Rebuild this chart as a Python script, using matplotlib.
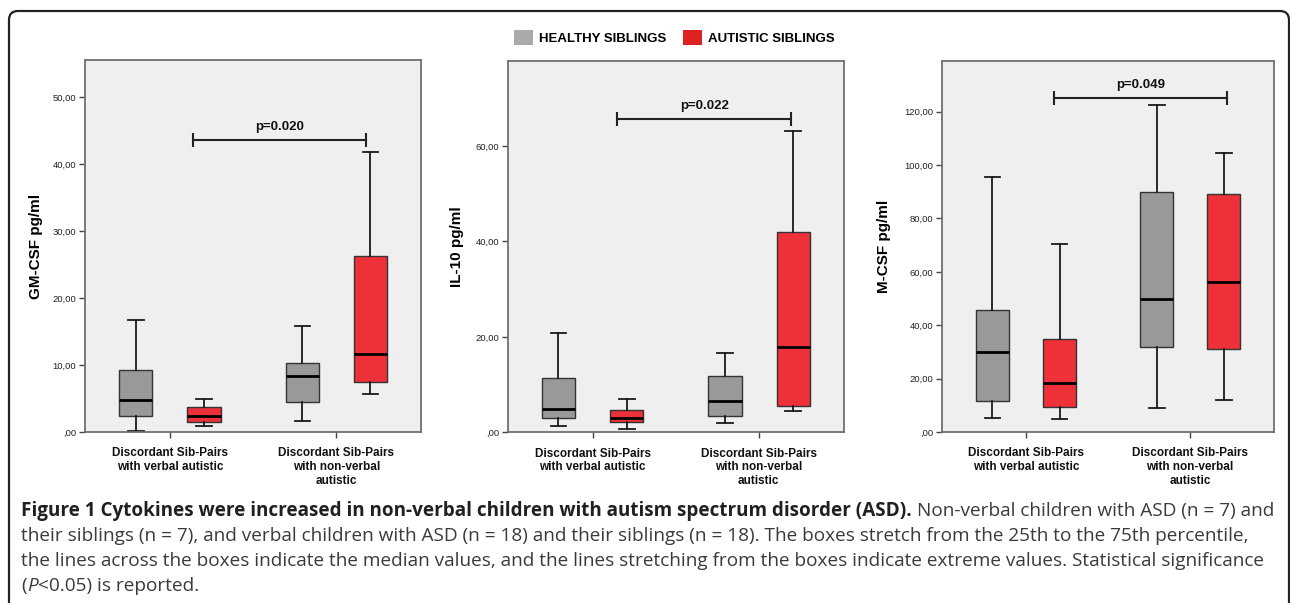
import matplotlib
matplotlib.use("Agg")
import matplotlib.pyplot as plt
from matplotlib.patches import Patch, FancyBboxPatch
from matplotlib.ticker import MultipleLocator, FuncFormatter

# categories / series
groups = ["Discordant Sib-Pairs\nwith verbal autistic",
          "Discordant Sib-Pairs\nwith non-verbal\nautistic"]
series = ["HEALTHY SIBLINGS", "AUTISTIC SIBLINGS"]

# box values, order: healthy-verbal, autistic-verbal, healthy-nonverbal, autistic-nonverbal
gm_lo = [0.1, 0.95, 1.65, 5.7]
gm_q1 = [2.4, 1.45, 4.55, 7.5]
gm_med = [4.8, 2.4, 8.3, 11.7]
gm_q3 = [9.25, 3.7, 10.25, 26.35]
gm_hi = [16.7, 4.95, 15.9, 41.8]

il_lo = [1.35, 0.7, 2.05, 4.45]
il_q1 = [3.05, 2.15, 3.4, 5.6]
il_med = [4.9, 2.95, 6.55, 17.9]
il_q3 = [11.45, 4.6, 11.75, 42.05]
il_hi = [20.9, 7.0, 16.6, 63.1]

m_lo = [5.4, 4.75, 9.0, 11.9]
m_q1 = [11.5, 9.5, 31.8, 31.1]
m_med = [30.1, 18.5, 49.7, 56.2]
m_q3 = [45.7, 34.7, 89.8, 89.2]
m_hi = [95.6, 70.4, 122.6, 104.6]

ylabels = ["GM-CSF pg/ml", "IL-10 pg/ml", "M-CSF pg/ml"]
p_values = ["p=0.020", "p=0.022", "p=0.049"]

panels = [
    (gm_lo, gm_q1, gm_med, gm_q3, gm_hi),
    (il_lo, il_q1, il_med, il_q3, il_hi),
    (m_lo, m_q1, m_med, m_q3, m_hi),
]

W, H = 1290, 603
fig = plt.figure(figsize=(W / 100, H / 100), dpi=100)
fig.patch.set_facecolor("white")

GREY = "#999999"
RED = "#ee3039"
chart_font = ["Liberation Sans", "DejaVu Sans"]
cap_font = ["Open Sans", "DejaVu Sans"]

# axes boxes in pixels (left, top, right, bottom)
rects = [(85, 60, 421, 432), (507.7, 61, 843.7, 432.3), (942.3, 61, 1273.7, 432)]
ytops = [55.6, 77.8, 139]
ysteps = [10, 20, 20]
ylabel_px = [35.5, 456.5, 884]
bracket_x = [(1.137, 2.181), (1.149, 2.193), (1.172, 2.227)]
bracket_y = [43.66, 65.6, 125.2]

positions = [0.795, 1.205, 1.797, 2.206]
colors = [GREY, RED, GREY, RED]


def fmt(v, pos):
    s = "%.2f" % v
    s = s.replace(".", ",")
    if s.startswith("0,"):
        s = s[1:]
    return s


for i, (l, t, r, b) in enumerate(rects):
    ax = fig.add_axes([l / W, 1 - b / H, (r - l) / W, (b - t) / H])
    ax.set_facecolor("#efefef")
    lo, q1, med, q3, hi = panels[i]
    stats = []
    for k in range(4):
        stats.append(dict(whislo=lo[k], q1=q1[k], med=med[k], q3=q3[k],
                          whishi=hi[k], fliers=[]))
    bp = ax.bxp(stats, positions=positions, widths=0.2, capwidths=0.095,
                patch_artist=True, showfliers=False, manage_ticks=False,
                boxprops=dict(edgecolor="#333333", linewidth=1.0),
                medianprops=dict(color="black", linewidth=2.0),
                whiskerprops=dict(color="#1a1a1a", linewidth=1.3),
                capprops=dict(color="#1a1a1a", linewidth=1.3))
    for patch, c in zip(bp["boxes"], colors):
        patch.set_facecolor(c)

    ax.set_xlim(0.49, 2.51)
    ax.set_ylim(0, ytops[i])
    ax.yaxis.set_major_locator(MultipleLocator(ysteps[i]))
    ax.yaxis.set_major_formatter(FuncFormatter(fmt))
    ax.set_xticks([1, 2])
    ax.set_xticklabels(groups, fontweight="bold", fontsize=8.5, family=chart_font)
    for lab in ax.get_yticklabels():
        lab.set_family(chart_font)
    ax.tick_params(axis="y", length=4.3, width=1.0, pad=2, labelsize=6.8,
                   color="#444444", labelcolor="#222222")
    ax.tick_params(axis="x", length=4, width=1.0, pad=7, color="#444444",
                   labelcolor="#111111")
    for sp in ax.spines.values():
        sp.set_color("#707070")
        sp.set_linewidth(1.3)

    ax.set_ylabel(ylabels[i], fontsize=11, fontweight="bold", family=chart_font,
                  va="center")
    ax.yaxis.set_label_coords((ylabel_px[i] - l) / (r - l), 0.5)

    # significance bracket
    x0, x1 = bracket_x[i]
    yb = bracket_y[i]
    ax.plot([x0, x1], [yb, yb], color="#222222", lw=1.5, marker="|",
            ms=10, mew=1.5)
    ax.annotate(p_values[i], xy=((x0 + x1) / 2, yb), xytext=(0, 5),
                textcoords="offset points", ha="center", va="bottom",
                fontsize=9.5, fontweight="bold", family=chart_font, color="#111111")

# legend
handles = [Patch(facecolor="#aaaaaa", edgecolor="none"),
           Patch(facecolor="#dd2222", edgecolor="none")]
fig.legend(handles, series, loc="center", bbox_to_anchor=(674.5 / W, 1 - 37.7 / H),
           ncol=2, frameon=False, borderpad=0,
           prop=dict(family=chart_font, weight="bold", size=9.5),
           handlelength=1.44, handleheight=1.44, handletextpad=0.45,
           columnspacing=1.3)

# outer rounded frame
frame = FancyBboxPatch((0.09, -0.3), 12.80, 5.92 + 0.3,
                       boxstyle="round,pad=0,rounding_size=0.09",
                       transform=fig.dpi_scale_trans, fill=False,
                       edgecolor="#222222", linewidth=1.6)
fig.add_artist(frame)

# caption
renderer = fig.canvas.get_renderer()
bold_txt = ("Figure 1 Cytokines were increased in non-verbal children with "
            "autism spectrum disorder (ASD).")
line1_rest = "Non-verbal children with ASD (n = 7) and"
line2 = ("their siblings (n = 7), and verbal children with ASD (n = 18) and their "
         "siblings (n = 18). The boxes stretch from the 25th to the 75th percentile,")
line3 = ("the lines across the boxes indicate the median values, and the lines "
         "stretching from the boxes indicate extreme values. Statistical significance")


def width_px(s, size, **kw):
    t = fig.text(0, 0, s, fontsize=size, family=cap_font, **kw)
    w = t.get_window_extent(renderer).width
    t.remove()
    return w


fs_reg = 12 * (1247 - 21) / width_px(line2, 12)
fs_bold = 12 * (910 - 21) / width_px(bold_txt, 12, fontweight="bold")

x_left = 21
reg_col = "#3a3a3a"


def draw_runs(ybase, runs):
    x = x_left
    for s, kw in runs:
        t = fig.text(x / W, 1 - ybase / H, s, va="baseline", ha="left",
                     family=cap_font, **kw)
        x = t.get_window_extent(renderer).x1 + kw.get("gap", 0)


t1 = fig.text(x_left / W, 1 - 516 / H, bold_txt, va="baseline", ha="left",
              family=cap_font, fontsize=fs_bold, fontweight="bold", color="#231f20")
x_end = t1.get_window_extent(renderer).x1 + 0.27 * fs_reg * 100 / 72
fig.text(x_end / W, 1 - 516 / H, line1_rest, va="baseline", ha="left",
         family=cap_font, fontsize=fs_reg, color=reg_col)
fig.text(x_left / W, 1 - 541 / H, line2, va="baseline", ha="left",
         family=cap_font, fontsize=fs_reg, color=reg_col)
fig.text(x_left / W, 1 - 566 / H, line3, va="baseline", ha="left",
         family=cap_font, fontsize=fs_reg, color=reg_col)

x = x_left
for s, style in [("(", "normal"), ("P", "italic"), ("<0.05) is reported.", "normal")]:
    t = fig.text(x / W, 1 - 591 / H, s, va="baseline", ha="left", family=cap_font,
                 fontsize=fs_reg, color=reg_col, style=style)
    x = t.get_window_extent(renderer).x1 + 0.5

fig.savefig("out.png", dpi=100)
